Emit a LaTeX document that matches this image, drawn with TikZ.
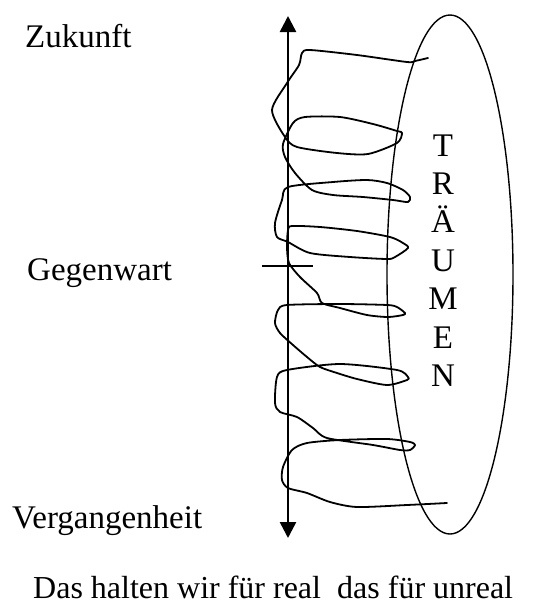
\documentclass[tikz,border=0pt]{standalone}
\usepackage{fontspec}
\setmainfont{Liberation Serif}
\usepackage{tikz}
\usetikzlibrary{arrows.meta}

\begin{document}
\begin{tikzpicture}[x=1pt, y=-1pt,
    label/.style={anchor=base west, inner sep=0pt, font=\fontsize{33}{39}\selectfont},
    caption/.style={anchor=base west, inner sep=0pt, font=\fontsize{32}{38}\selectfont},
    letter/.style={anchor=base, inner sep=0pt, font=\fontsize{33}{39}\selectfont},
    axis/.style={line width=2.5pt, {Triangle[length=16pt, width=16pt]}-{Triangle[length=16pt, width=16pt]}},
    helix/.style={line width=1.8pt, line join=round, line cap=round}]
  \useasboundingbox (0,0) rectangle (543,606);

  % time axis
  \coordinate (past) at (288,538);
  \coordinate (future) at (288,16);
  \coordinate (now) at (288,266);
  \draw[axis] (past) -- (future);
  \draw[line width=1.4pt] (now) ++(-26,0) -- ++(51,0);

  \node[label] (zukunft) at (25,47) {Zukunft};
  \node[label] (gegenwart) at (27,280) {Gegenwart};
  \node[label] (vergangen) at (12,528) {Vergangenheit};

  % the dream
  \draw[line width=1.4pt] (450,274.5) ellipse [x radius=63, y radius=259.5];
  \foreach \ch [count=\i] in {T,R,Ä,U,M,E,N}
    \node[letter] (traum\i) at (443,{156+38.4*(\i-1)}) {\ch};

  % life winding round the axis
  \draw[helix] plot[smooth, tension=0.45] coordinates {
    (428,58) (415,61) (407,62) (357,55) (310,50) (302,53) (299,65)
    (287,83) (272,110) (285,137) (297,147) (337,153) (368,154)
    (397,143) (402,133) (397,131) (373,124) (340,117) (305,117)
    (293,123) (283,144) (285,157) (295,173) (312,190) (333,195)
    (363,197) (393,200) (408,202) (410,197) (403,190) (387,183)
    (367,180) (333,182) (288,187) (282,200) (275,223) (277,237)
    (288,242) (310,253) (350,257) (387,259) (395,257) (408,248)
    (403,243) (390,237) (357,231) (320,227) (292,226) (288,230)
    (287,247) (289,263) (300,277) (317,293) (322,303) (340,308)
    (367,315) (388,317) (403,315) (405,313) (397,307) (387,305)
    (340,304) (287,305) (278,310) (275,323) (280,333) (293,345)
    (307,357) (320,367) (337,373) (357,379) (387,385) (407,380)
    (408,377) (397,370) (340,364) (287,370) (277,377) (275,403)
    (280,412) (297,417) (313,428) (327,438) (373,445) (400,450)
    (410,450) (415,445) (410,442) (387,439) (340,440) (307,443)
    (292,450) (283,467) (282,480) (288,488) (307,493) (330,502)
    (357,507) (407,505) (447,503)};

  \node[caption] (real) at (33,598) {Das halten wir für real};
  \node[caption] (unreal) at (337,598) {das für unreal};
\end{tikzpicture}
\end{document}
